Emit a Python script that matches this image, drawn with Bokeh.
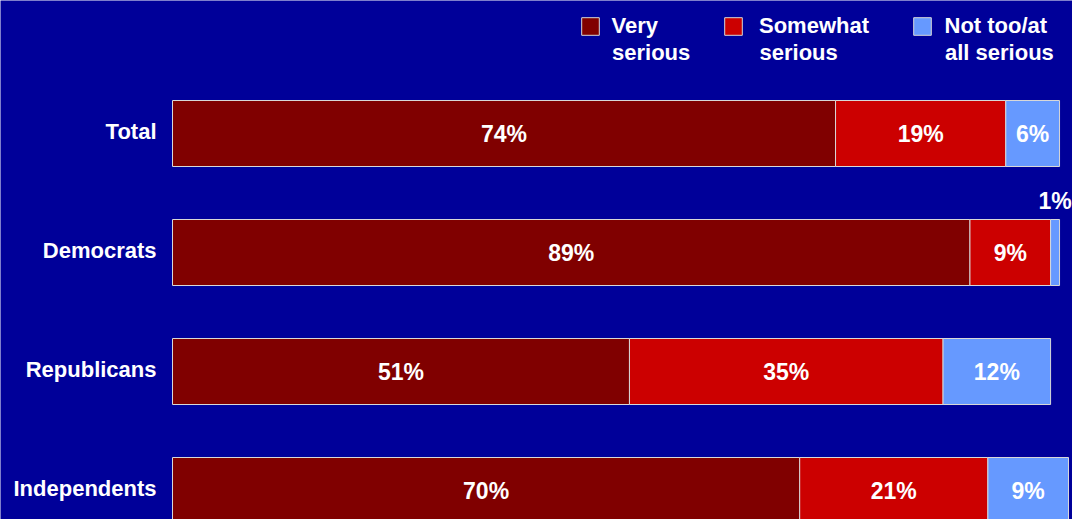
from bokeh.plotting import figure
from bokeh.models import ColumnDataSource, Range1d, Legend, LegendItem, Label
from bokeh.core.properties import value
from bokeh.embed import file_html
from bokeh.resources import INLINE

groups = ["Total", "Democrats", "Republicans", "Independents"]
very = [74, 89, 51, 70]
somewhat = [19, 9, 35, 21]
not_too = [6, 1, 12, 9]
series_keys = ["very", "somewhat", "not_too"]
legend_line1 = ["Very", "Somewhat", "Not too/at"]
legend_line2 = ["serious", "serious", "all serious"]
colors = ["#800000", "#CC0000", "#6699FF"]

BG = "#000099"
FONT = "Liberation Sans"
W, H = 1072, 519
LEFT = 172          # pixel where 0% sits
PX_PER_PCT = 8.96
ROW = 119.0
FIRST = 133.0

pos = list(range(len(groups)))
src = ColumnDataSource(dict(pos=pos, very=very, somewhat=somewhat, not_too=not_too))

p = figure(width=W, height=H, output_backend="svg", toolbar_location=None,
           x_range=Range1d(-LEFT / PX_PER_PCT, (W - LEFT) / PX_PER_PCT),
           y_range=Range1d((H - FIRST) / ROW, -FIRST / ROW),
           min_border_left=0, min_border_right=0, min_border_top=0, min_border_bottom=0,
           background_fill_color=BG, border_fill_color=BG, outline_line_color=None)

renderers = p.hbar_stack(series_keys, y="pos", height=66 / ROW, color=colors,
                         line_color="#D8D8D8", line_width=1, source=src)

# value labels
for i, key in enumerate(series_keys):
    vals = src.data[key]
    starts = [sum(src.data[k][j] for k in series_keys[:i]) for j in range(len(pos))]
    mids = [s + v / 2 for s, v in zip(starts, vals)]
    ys = [y - (52 / ROW if v < 3 else 0) for y, v in zip(pos, vals)]
    lab = ColumnDataSource(dict(x=mids, y=ys, t=[f"{v}%" for v in vals]))
    p.text(x="x", y="y", text="t", source=lab, text_align="center", text_baseline="middle",
           text_font=value(FONT), text_font_style="bold", text_font_size="23px",
           text_color="white")

# category labels
cat_src = ColumnDataSource(dict(x=[-16 / PX_PER_PCT] * len(groups), y=[y - 2 / ROW for y in pos], t=groups))
p.text(x="x", y="y", text="t", source=cat_src, text_align="right", text_baseline="middle",
       text_font=value(FONT), text_font_style="bold", text_font_size="22px",
       text_color="white")

p.xaxis.visible = False
p.yaxis.visible = False
p.grid.visible = False

legend_x = [406.5, 550, 738.5]
standoffs = [11, 15, 12]
for r, l1, l2, lx, so in zip(renderers, legend_line1, legend_line2, legend_x, standoffs):
    lg = Legend(items=[LegendItem(label=l1, renderers=[r])], location=(LEFT + lx, 480),
                orientation="horizontal", padding=0, margin=0, spacing=0,
                glyph_width=22, glyph_height=22, label_standoff=so,
                label_text_font=FONT, label_text_font_style="bold",
                label_text_font_size="22px", label_text_color="white",
                border_line_alpha=0, background_fill_alpha=0)
    p.add_layout(lg)
    p.add_layout(Label(x=LEFT + lx + 22 + so, y=H - 52, x_units="screen", y_units="screen",
                       text=l2, text_font=FONT, text_font_style="bold",
                       text_font_size="22px", text_color="white",
                       text_baseline="alphabetic"))

open("out.html", "w").write(file_html(p, INLINE))
